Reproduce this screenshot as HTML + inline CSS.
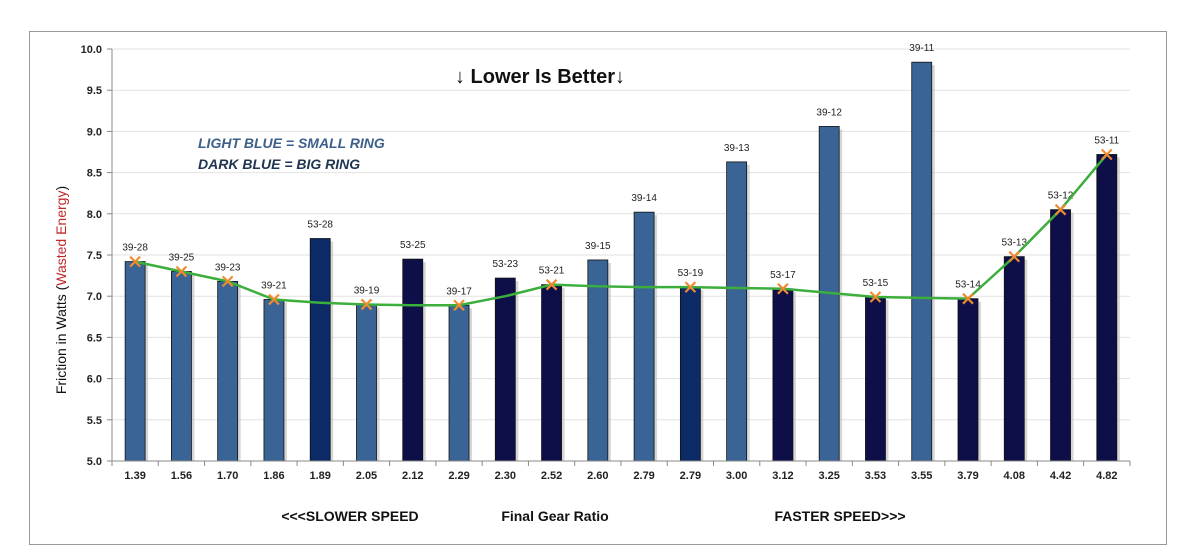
<!DOCTYPE html>
<html><head><meta charset="utf-8"><style>
body{margin:0;background:#fff;}
svg{display:block;font-family:"Liberation Sans",sans-serif;}
</style></head><body>
<svg id="c" width="1189" height="560" xmlns="http://www.w3.org/2000/svg">
<rect x="29.5" y="31.5" width="1137" height="513" fill="#fff" stroke="#999" stroke-width="1"/>
<g id="g"></g>
<text x="540" y="83" text-anchor="middle" font-size="20" font-weight="bold" fill="#111">↓ Lower Is Better↓</text>
<text x="198" y="148" font-size="14" font-style="italic" font-weight="bold" fill="#3d5f8a">LIGHT BLUE = SMALL RING</text>
<text x="198" y="169" font-size="14" font-style="italic" font-weight="bold" fill="#1f3550">DARK BLUE = BIG RING</text>
<text transform="translate(66,290) rotate(-90)" text-anchor="middle" font-size="14" fill="#111">Friction in Watts  (<tspan fill="#c0282a">Wasted Energy</tspan>)</text>
<text x="350" y="521" text-anchor="middle" font-size="14" font-weight="bold" fill="#111">&lt;&lt;&lt;SLOWER SPEED</text>
<text x="555" y="521" text-anchor="middle" font-size="14" font-weight="bold" fill="#111">Final Gear Ratio</text>
<text x="840" y="521" text-anchor="middle" font-size="14" font-weight="bold" fill="#111">FASTER SPEED&gt;&gt;&gt;</text>
</svg>
<script>
var g=document.getElementById('g'),h='';
function Y(v){return 461-(v-5)*82.4;}
var X0=112,W=46.27;
for(var i=0;i<=10;i++){var v=5+i*0.5,y=Y(v);
 if(i>0)h+='<line x1="112" x2="1130" y1="'+y+'" y2="'+y+'" stroke="#e2e2e2"/>';
 h+='<line x1="107" x2="112" y1="'+y+'" y2="'+y+'" stroke="#888"/>';
 h+='<text x="102" y="'+(y+4)+'" text-anchor="end" font-size="11" font-weight="bold" fill="#222">'+v.toFixed(1)+'</text>';}
var xl=["1.39","1.56","1.70","1.86","1.89","2.05","2.12","2.29","2.30","2.52","2.60","2.79","2.79","3.00","3.12","3.25","3.53","3.55","3.79","4.08","4.42","4.82"];
var lb=["39-28","39-25","39-23","39-21","53-28","39-19","53-25","39-17","53-23","53-21","39-15","39-14","53-19","39-13","53-17","39-12","53-15","39-11","53-14","53-13","53-12","53-11"];
var vals=[7.42,7.30,7.18,6.96,7.70,6.90,7.45,6.89,7.22,7.14,7.44,8.02,7.11,8.63,7.09,9.06,6.99,9.84,6.97,7.48,8.05,8.72];
var line=[7.42,7.30,7.18,6.96,6.92,6.90,6.89,6.89,7.0,7.14,7.12,7.11,7.11,7.10,7.09,7.04,6.99,6.98,6.97,7.48,8.05,8.72];
var mk=[0,1,2,3,5,7,9,12,14,16,18,19,20,21];
for(var i=0;i<22;i++){var cx=X0+W*(i+0.5),v=vals[i],y=Y(v);
 var dark=lb[i].indexOf('53')==0;
 var col=dark?'#0e0e48':'#3a6496';
 if(i==4||i==12)col='#0c2a66';
 h+='<rect x="'+(cx-7)+'" y="'+(y+3)+'" width="20" height="'+(461-y-3)+'" fill="#bbb" opacity="0.6"/>';
 h+='<rect x="'+(cx-10)+'" y="'+y+'" width="20" height="'+(461-y)+'" fill="'+col+'" stroke="#111" stroke-width="0.8"/>';
 h+='<text x="'+cx+'" y="'+(y-11)+'" text-anchor="middle" font-size="10" fill="#222">'+lb[i]+'</text>';
 h+='<text x="'+cx+'" y="'+479+'" text-anchor="middle" font-size="11" font-weight="bold" fill="#222">'+xl[i]+'</text>';
 h+='<line x1="'+(X0+W*i)+'" x2="'+(X0+W*i)+'" y1="461" y2="466" stroke="#888"/>';}
h+='<line x1="1130" x2="1130" y1="461" y2="466" stroke="#888"/>';
h+='<line x1="112" x2="1130" y1="461" y2="461" stroke="#888"/><line x1="112" x2="112" y1="49" y2="461" stroke="#888"/>';
var p='';for(var i=0;i<22;i++)p+=(X0+W*(i+0.5))+','+Y(line[i])+' ';
h+='<polyline points="'+p+'" fill="none" stroke="#3cae3c" stroke-width="2.5"/>';
mk.forEach(function(i){var cx=X0+W*(i+0.5),y=Y(line[i]);
 h+='<path d="M'+(cx-5)+' '+(y-5)+'L'+(cx+5)+' '+(y+5)+'M'+(cx+5)+' '+(y-5)+'L'+(cx-5)+' '+(y+5)+'" stroke="#f08a30" stroke-width="2.2"/>';});
g.innerHTML=h;
</script>
</body></html>
